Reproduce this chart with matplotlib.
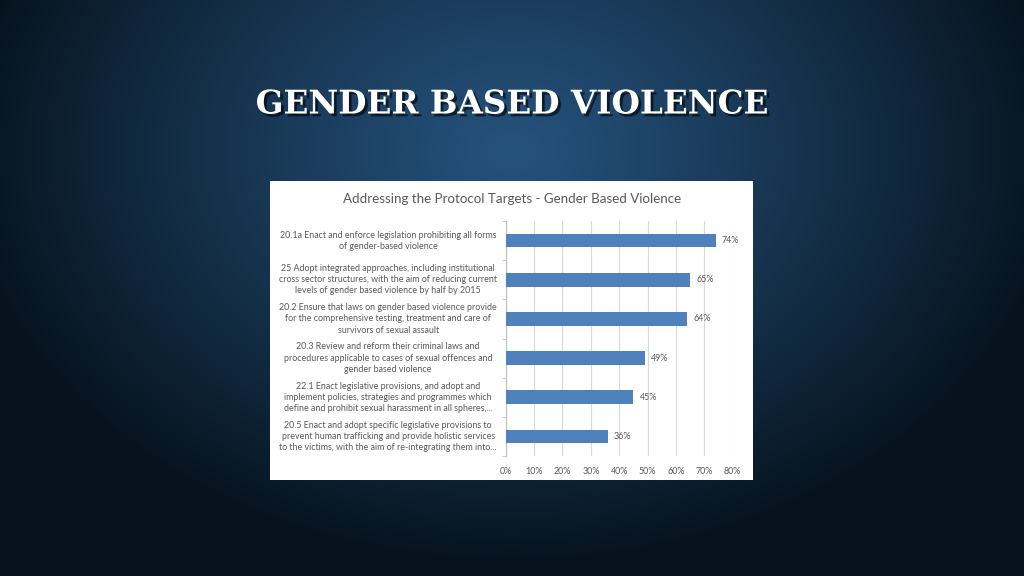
import numpy as np
import matplotlib
matplotlib.use("Agg")
import matplotlib.pyplot as plt
import matplotlib.patheffects as pe
from matplotlib.patches import Rectangle
from matplotlib.ticker import MultipleLocator, PercentFormatter

# data
slide_title = "GENDER BASED VIOLENCE"
chart_title = "Addressing the Protocol Targets - Gender Based Violence"
targets = [
    "20.1a Enact and enforce legislation prohibiting all forms\nof gender-based violence",
    "25 Adopt integrated approaches, including institutional\ncross sector structures, with the aim of reducing current\nlevels of gender based violence by half by 2015",
    "20.2 Ensure that laws on gender based violence provide\nfor the comprehensive testing, treatment and care of\nsurvivors of sexual assault",
    "20.3 Review and reform their criminal laws and\nprocedures applicable to cases of sexual offences and\ngender based violence",
    "22.1 Enact legislative provisions, and adopt and\nimplement policies, strategies and programmes which\ndefine and prohibit sexual harassment in all spheres,...",
    "20.5 Enact and adopt specific legislative provisions to\nprevent human trafficking and provide holistic services\nto the victims, with the aim of re-integrating them into...",
]
scores = [74, 65, 64, 49, 45, 36]

W, H = 1024, 576
fig = plt.figure(figsize=(W / 100, H / 100), dpi=100)

# slide background: dark blue, lighter towards the top centre
bg = fig.add_axes([0, 0, 1, 1])
yy, xx = np.mgrid[0:H, 0:W]
r = np.sqrt(((xx - 512) / 560.0) ** 2 + ((yy - 150) / 420.0) ** 2)
t = np.clip(r, 0, 1) ** 1.1
inner = np.array([0x25, 0x52, 0x7c]) / 255.0
outer = np.array([0x06, 0x12, 0x1d]) / 255.0
img = inner[None, None, :] * (1 - t[..., None]) + outer[None, None, :] * t[..., None]
bg.imshow(img, extent=[0, W, H, 0], aspect="auto", interpolation="bilinear")
bg.set_xlim(0, W)
bg.set_ylim(H, 0)
bg.axis("off")

bg.text(512, 104, slide_title, color="white", fontsize=23.5, fontweight="bold",
        family="DejaVu Serif", ha="center", va="center",
        path_effects=[pe.withSimplePatchShadow(offset=(2, -2), shadow_rgbFace="black", alpha=0.6)])

# white chart card
bg.add_patch(Rectangle((270, 181), 483, 299, facecolor="white", edgecolor="none"))
bg.text(512, 199, chart_title, color="#595959", fontsize=9.6, family="Lato",
        ha="center", va="center")

# the bar chart itself
ax = fig.add_axes([505.7 / W, 1 - 456 / H, 227 / W, 235 / H])
ypos = np.arange(len(scores))
ax.barh(ypos, scores, height=0.35, color="#4f81bd", zorder=3)
ax.set_xlim(0, 80)
ax.set_ylim(len(scores) - 0.5, -0.5)
ax.xaxis.set_major_locator(MultipleLocator(10))
ax.xaxis.set_major_formatter(PercentFormatter(decimals=0))
ax.grid(axis="x", color="#d9d9d9", linewidth=0.8, zorder=0)
for s in ["top", "right", "bottom"]:
    ax.spines[s].set_visible(False)
ax.spines["left"].set_color("#bfbfbf")
ax.tick_params(axis="x", length=0, labelsize=6.4, labelcolor="#595959", pad=8)
ax.set_yticks([])
ax.set_yticks(np.arange(len(scores) + 1) - 0.5, minor=True)
ax.tick_params(axis="y", which="minor", length=3, color="#bfbfbf")
ax.set_facecolor("none")

for i, v in enumerate(scores):
    ax.text(v + 2.2, i, f"{v}%", va="center", ha="left", fontsize=6.4,
            color="#595959", family="Lato")

for i, lab in enumerate(targets):
    ax.text(-0.518, i, lab, transform=ax.get_yaxis_transform(), ha="center",
            va="center", multialignment="center", fontsize=6.4, color="#595959",
            family="Lato", linespacing=1.3)

for lab in ax.get_xticklabels():
    lab.set_family("Lato")

fig.savefig("out.png", dpi=100)
